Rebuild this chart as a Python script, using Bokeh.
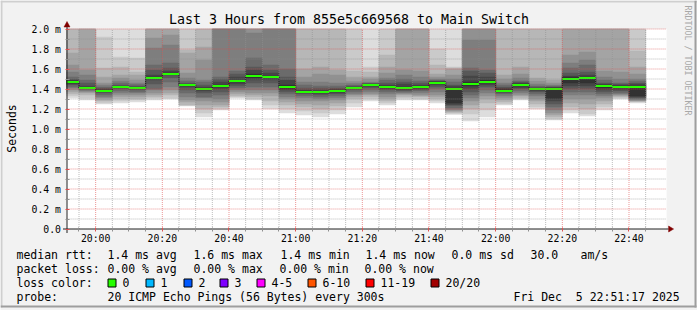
import pandas as pd
from math import pi
from bokeh.plotting import figure
from bokeh.models import (ColumnDataSource, FixedTicker, Label, Range1d,
                          DatetimeAxis, LinearAxis, DatetimeTickFormatter)
from bokeh.embed import file_html
from bokeh.resources import INLINE

# ---------------- data (ms) ----------------
# 35 five-minute steps starting 19:50, 20 sorted pings per step (smokeping style)
ping01 = [1.31,1.29,1.25,1.26,1.27,1.29,1.30,1.23,1.12,1.19,1.31,1.29,1.20,1.16,1.14,1.12,1.15,1.22,1.28,1.24,1.29,1.29,1.26,1.145,1.08,1.12,1.24,1.29,1.20,1.09,1.16,1.13,1.19,1.30,1.26]
ping02 = [1.33,1.31,1.26,1.28,1.29,1.31,1.31,1.235,1.16,1.20,1.32,1.30,1.24,1.20,1.18,1.16,1.19,1.26,1.30,1.26,1.31,1.30,1.28,1.155,1.15,1.19,1.25,1.30,1.22,1.10,1.19,1.15,1.22,1.31,1.27]
ping03 = [1.35,1.34,1.28,1.30,1.30,1.32,1.34,1.24,1.20,1.22,1.33,1.32,1.28,1.24,1.22,1.20,1.23,1.30,1.32,1.28,1.32,1.32,1.30,1.165,1.20,1.26,1.27,1.31,1.25,1.12,1.22,1.20,1.25,1.32,1.275]
ping04 = [1.37,1.36,1.29,1.32,1.32,1.34,1.36,1.27,1.24,1.24,1.35,1.34,1.33,1.27,1.25,1.24,1.26,1.32,1.34,1.30,1.34,1.33,1.32,1.175,1.24,1.30,1.29,1.33,1.28,1.14,1.26,1.25,1.28,1.33,1.28]
ping05 = [1.39,1.37,1.31,1.34,1.34,1.36,1.39,1.29,1.28,1.27,1.37,1.36,1.36,1.30,1.28,1.28,1.29,1.34,1.35,1.32,1.35,1.34,1.34,1.185,1.28,1.33,1.31,1.34,1.30,1.16,1.30,1.30,1.31,1.34,1.285]
ping06 = [1.41,1.38,1.32,1.36,1.36,1.39,1.42,1.32,1.31,1.30,1.39,1.39,1.39,1.32,1.31,1.30,1.31,1.35,1.37,1.35,1.36,1.36,1.37,1.195,1.31,1.36,1.33,1.36,1.33,1.19,1.34,1.34,1.33,1.35,1.29]
ping07 = [1.42,1.39,1.34,1.38,1.37,1.40,1.47,1.36,1.32,1.34,1.41,1.42,1.42,1.35,1.33,1.32,1.33,1.37,1.39,1.37,1.37,1.38,1.40,1.21,1.34,1.39,1.35,1.38,1.35,1.22,1.37,1.37,1.35,1.36,1.30]
ping08 = [1.44,1.40,1.36,1.40,1.39,1.45,1.51,1.39,1.36,1.37,1.43,1.46,1.46,1.37,1.35,1.34,1.35,1.39,1.41,1.39,1.385,1.39,1.42,1.235,1.37,1.42,1.36,1.40,1.37,1.25,1.40,1.40,1.37,1.38,1.31]
ping09 = [1.45,1.405,1.37,1.41,1.40,1.49,1.54,1.42,1.38,1.40,1.45,1.49,1.49,1.39,1.36,1.355,1.36,1.40,1.425,1.40,1.39,1.40,1.44,1.245,1.40,1.44,1.37,1.41,1.38,1.28,1.43,1.43,1.39,1.39,1.32]
ping10 = [1.46,1.41,1.38,1.42,1.41,1.505,1.545,1.435,1.40,1.42,1.47,1.51,1.51,1.40,1.365,1.365,1.375,1.405,1.435,1.41,1.40,1.41,1.46,1.26,1.43,1.46,1.38,1.43,1.395,1.30,1.46,1.46,1.41,1.41,1.33]
ping11 = [1.48,1.415,1.39,1.425,1.415,1.52,1.56,1.445,1.41,1.44,1.49,1.55,1.53,1.44,1.38,1.375,1.39,1.415,1.445,1.43,1.42,1.43,1.47,1.41,1.47,1.49,1.40,1.45,1.405,1.41,1.52,1.52,1.44,1.43,1.43]
ping12 = [1.49,1.43,1.40,1.43,1.42,1.54,1.58,1.45,1.42,1.47,1.52,1.59,1.56,1.49,1.39,1.39,1.40,1.42,1.45,1.44,1.45,1.44,1.475,1.43,1.53,1.52,1.41,1.46,1.41,1.415,1.53,1.54,1.45,1.44,1.45]
ping13 = [1.50,1.46,1.41,1.44,1.43,1.59,1.61,1.46,1.44,1.50,1.55,1.62,1.59,1.52,1.41,1.41,1.41,1.43,1.455,1.46,1.47,1.46,1.48,1.44,1.58,1.56,1.42,1.47,1.42,1.42,1.56,1.57,1.46,1.45,1.46]
ping14 = [1.52,1.49,1.42,1.46,1.445,1.64,1.66,1.48,1.47,1.52,1.58,1.71,1.64,1.60,1.44,1.43,1.43,1.44,1.46,1.49,1.50,1.48,1.49,1.47,1.61,1.59,1.44,1.48,1.43,1.43,1.61,1.64,1.49,1.46,1.48]
ping15 = [1.57,1.54,1.44,1.48,1.46,1.81,1.84,1.51,1.49,2.10,2.20,1.96,2.20,2.10,1.47,1.47,1.46,1.46,1.47,1.51,1.54,1.52,1.50,1.50,1.89,1.89,1.46,1.51,1.45,1.44,1.66,1.69,1.52,1.50,1.50]
ping16 = [1.64,1.59,1.46,1.51,1.49,1.91,1.94,1.56,1.69,2.40,2.50,2.30,2.50,2.40,1.52,1.55,1.54,1.48,1.50,1.56,1.59,1.58,1.52,1.54,2.20,2.20,1.50,1.55,1.48,1.46,1.74,1.77,1.58,1.57,1.55]
ping17 = [1.76,2.20,1.52,1.54,1.54,2.20,2.30,1.76,1.82,2.80,2.90,2.70,2.90,2.80,1.60,1.62,1.59,1.52,1.52,1.62,2.20,2.10,1.55,1.60,2.60,2.60,1.54,1.62,1.51,1.49,2.20,2.20,2.10,2.20,1.62]
ping18 = [2.10,2.50,1.61,1.62,1.57,2.60,2.70,1.79,2.20,3.20,3.40,3.10,3.30,3.20,2.20,2.20,2.10,1.58,1.57,1.74,2.60,2.50,1.64,1.61,3.00,3.00,2.20,2.20,2.10,2.10,2.60,2.60,2.50,2.60,1.78]
ping19 = [2.50,3.00,1.92,1.72,1.71,3.10,3.20,2.30,2.70,3.90,4.10,3.70,3.90,3.80,2.60,2.70,2.50,2.20,1.62,2.20,3.10,3.00,1.80,1.62,3.50,3.60,2.60,2.70,2.50,2.50,3.10,3.20,3.00,3.10,2.20]
ping20 = [3.00,3.50,2.40,2.30,2.30,3.80,4.00,2.90,3.30,4.60,5.00,4.40,4.70,4.50,3.20,3.30,3.10,2.80,2.30,2.90,3.70,3.60,2.40,2.30,4.20,4.30,3.20,3.30,3.00,3.10,3.80,3.90,3.60,3.70,2.80]
median = [1.47,1.41,1.38,1.42,1.41,1.51,1.55,1.44,1.40,1.43,1.48,1.53,1.52,1.42,1.37,1.37,1.38,1.41,1.44,1.42,1.41,1.42,1.46,1.40,1.45,1.47,1.38,1.44,1.40,1.40,1.50,1.51,1.43,1.42,1.42]

first_step = "2025-12-05 19:50:00"
step_minutes = 5
view_start = "2025-12-05 19:51:17"
view_end = "2025-12-05 22:51:17"
y_max = 2.0

x_tick_labels = ["20:00", "20:20", "20:40", "21:00", "21:20", "21:40", "22:00", "22:20", "22:40"]
y_ticks = [0.0, 0.2, 0.4, 0.6, 0.8, 1.0, 1.2, 1.4, 1.6, 1.8, 2.0]
y_tick_labels = ["0.0", "0.2 m", "0.4 m", "0.6 m", "0.8 m", "1.0 m", "1.2 m", "1.4 m", "1.6 m", "1.8 m", "2.0 m"]
y_minor = [0.1, 0.3, 0.5, 0.7, 0.9, 1.1, 1.3, 1.5, 1.7, 1.9]

title_text = "Last 3 Hours from 855e5c669568 to Main Switch"
rtt_items = ["median rtt:", "1.4 ms avg", "1.6 ms max", "1.4 ms min", "1.4 ms now", "0.0 ms sd", "30.0", "am/s"]
loss_items = ["packet loss:", "0.00 % avg", "0.00 % max", "0.00 % min", "0.00 % now"]
loss_labels = ["0", "1", "2", "3", "4-5", "6-10", "11-19", "20/20"]
loss_colors = ["#26ff00", "#00b8ff", "#0059ff", "#7e00ff", "#ff00ff", "#ff5500", "#ff0000", "#a10000"]
probe_text = "20 ICMP Echo Pings (56 Bytes) every 300s"
stamp_text = "Fri Dec \u00a05 22:51:17 2025"

# ---------------- layout constants (pixels) ----------------
W, H = 697, 310
FL, FR, FT, FB = 66.1, 666.1, 28.5, 228.5     # rrdtool canvas area inside the image
AXIS_X = 66.5                                  # crisp pixel column for the y axis line
FONT = "DejaVu Sans Mono"

# ---------------- build ----------------
pings = [ping01, ping02, ping03, ping04, ping05, ping06, ping07, ping08, ping09, ping10,
         ping11, ping12, ping13, ping14, ping15, ping16, ping17, ping18, ping19, ping20]
n = len(median)
bar_start = pd.date_range(first_step, periods=n, freq=f"{step_minutes}min")
bar_end = bar_start + pd.Timedelta(minutes=step_minutes)
t0 = pd.Timestamp(view_start)
t1 = pd.Timestamp(view_end)

def ms(ts):
    return ts.value // 10**6

t0_ms, t1_ms = ms(t0), ms(t1)
ms_px = (t1_ms - t0_ms) / (FR - FL)
v_px = y_max / (FB - FT)

# the figure's frame covers the whole image; data ranges are set so the
# rrdtool canvas lands on pixels FL..FR / FT..FB
x_lo = t0_ms - FL * ms_px
x_hi = t0_ms + (W - FL) * ms_px
y_lo = -(H - FB) * v_px
y_hi = FB * v_px
ax_ms = t0_ms + (AXIS_X - FL) * ms_px

p = figure(width=W, height=H, x_axis_type="datetime",
           x_range=Range1d(x_lo, x_hi), y_range=Range1d(y_lo, y_hi),
           x_axis_location=None, y_axis_location=None,
           output_backend="svg", toolbar_location=None, title=None,
           min_border=0, min_border_left=0, min_border_right=0,
           min_border_top=0, min_border_bottom=0,
           background_fill_color="#f2f2f2", border_fill_color="#f2f2f2",
           outline_line_color=None)
p.xgrid.visible = False
p.ygrid.visible = False
p.extra_x_ranges = {"px": Range1d(0, W)}
p.extra_y_ranges = {"px": Range1d(H, 0)}

# white canvas
p.quad(left=[t0_ms], right=[t1_ms], bottom=[0], top=[y_max], fill_color="white", line_color=None)

# smoke: nested bands between ping i and ping 21-i, light outside, dark inside
L, R, B, T, C = [], [], [], [], []
half = 10
for i in range(1, half + 1):
    shade = int(190 / half * (half - i)) + 50
    col = "#%02x%02x%02x" % (shade, shade, shade)
    lo = pings[i - 1]
    hi = pings[20 - i]
    for a, b, l, h in zip(bar_start, bar_end, lo, hi):
        L.append(max(ms(a), t0_ms)); R.append(min(ms(b), t1_ms))
        B.append(min(l, y_max)); T.append(min(h, y_max)); C.append(col)
smoke = ColumnDataSource(dict(left=L, right=R, bottom=B, top=T, color=C))
p.quad(left="left", right="right", bottom="bottom", top="top", source=smoke,
       fill_color="color", line_color="color", line_width=0.5)

# median: dark step line + loss-coloured segments
sx, sy = [], []
for a, b, m in zip(bar_start, bar_end, median):
    sx += [max(ms(a), t0_ms), ms(b)]; sy += [m, m]
p.line(sx, sy, line_color="#202020", line_width=1)
p.segment(x0=[max(ms(a), t0_ms) for a in bar_start], y0=median,
          x1=[ms(b) for b in bar_end], y1=median,
          line_color=loss_colors[0], line_width=2)

# grid (drawn over the smoke, as rrdtool does)
x_major = [ms(pd.Timestamp("2025-12-05 " + s)) for s in x_tick_labels]
x_minor = [ms(t) for t in bar_end if ms(t) not in x_major and t0_ms < ms(t) < t1_ms]
p.segment(x0=x_minor, y0=[0] * len(x_minor), x1=x_minor, y1=[y_max] * len(x_minor),
          line_color="#8f8f8f", line_alpha=0.6, line_dash="1 1", line_width=1)
p.segment(x0=[t0_ms] * len(y_minor), y0=y_minor, x1=[t1_ms] * len(y_minor), y1=y_minor,
          line_color="#8f8f8f", line_alpha=0.6, line_dash="1 1", line_width=1)
p.segment(x0=x_major, y0=[0] * len(x_major), x1=x_major, y1=[y_max] * len(x_major),
          line_color="#de5050", line_alpha=0.6, line_dash="1 1", line_width=1)
y_maj_grid = [v for v in y_ticks if v > 0]
p.segment(x0=[t0_ms] * len(y_maj_grid), y0=y_maj_grid, x1=[t1_ms] * len(y_maj_grid), y1=y_maj_grid,
          line_color="#de5050", line_alpha=0.6, line_dash="1 1", line_width=1)

# axes (library axes, placed on the canvas edges)
xt = FixedTicker(ticks=x_major, minor_ticks=x_minor)
yt = FixedTicker(ticks=y_ticks, minor_ticks=y_minor)
xaxis = DatetimeAxis(ticker=xt, fixed_location=0, bounds=(t0_ms, t1_ms),
                     formatter=DatetimeTickFormatter(minutes="%H:%M", hourmin="%H:%M",
                                                     hours="%H:%M", minsec="%H:%M"))
xaxis.major_label_overrides = dict(zip(x_major, x_tick_labels))
yaxis = LinearAxis(ticker=yt, fixed_location=ax_ms, bounds=(0, y_max))
yaxis.major_label_overrides = dict(zip(y_ticks, y_tick_labels))
for ax in (xaxis, yaxis):
    ax.axis_line_color = None
    ax.major_tick_line_color = "#de5050"
    ax.minor_tick_line_color = "#8f8f8f"
    ax.major_tick_in = 2
    ax.major_tick_out = 2
    ax.minor_tick_in = 2
    ax.minor_tick_out = 2
    ax.major_label_text_font = FONT
    ax.major_label_text_font_size = "9.8px"
    ax.major_label_text_color = "black"
xaxis.major_label_standoff = 2
yaxis.major_label_standoff = 4
p.add_layout(xaxis, "below")
p.add_layout(yaxis, "left")

# axis lines with rrdtool arrows
p.line([ax_ms - 4 * ms_px, t1_ms + 2 * ms_px], [0, 0], line_color="#202020", line_width=1)
p.line([ax_ms, ax_ms], [-4 * v_px, y_max + 2 * v_px], line_color="#202020", line_width=1)
p.patch([t1_ms + 2 * ms_px, t1_ms + 7 * ms_px, t1_ms + 2 * ms_px], [3 * v_px, 0, -3 * v_px],
        fill_color="#800000", line_color="#800000", line_width=0.5)
p.patch([ax_ms - 3 * ms_px, ax_ms, ax_ms + 3 * ms_px],
        [y_max + 2 * v_px, y_max + 7.5 * v_px, y_max + 2 * v_px],
        fill_color="#800000", line_color="#800000", line_width=0.5)

# image border
for l, r, t, b, c in [(0, W, 0, 2, "#cfcfcf"), (0, 2, 0, 307, "#cfcfcf"),
                      (694, 696, 0, 307, "#9e9e9e"), (0, 696, 305, 307, "#9e9e9e")]:
    p.quad(left=[l], right=[r], top=[t], bottom=[b], fill_color=c, line_color=None,
           x_range_name="px", y_range_name="px")

def txt(x, y, s, size="11.5px", align="left", angle=0.0, color="black"):
    p.add_layout(Label(x=x, y=y, x_range_name="px", y_range_name="px", text=s,
                       text_font=FONT, text_font_size=size, text_align=align,
                       text_baseline="middle", angle=angle, text_color=color))

txt(348.5, 19, title_text, size="13.3px", align="center")
txt(11, 128, "Seconds", align="center", angle=pi / 2)
txt(687, 5, "RRDTOOL / TOBI OETIKER", size="8.3px", angle=-pi / 2, color="#a8a8a8")

row_y = [254, 268, 282, 296]
col_x = [16, 107, 193, 280, 365, 451, 530, 580]
for s, x in zip(rtt_items, col_x):
    txt(x, row_y[0], s)
for s, x in zip(loss_items, [16, 107, 193, 279, 364]):
    txt(x, row_y[1], s)
txt(16, row_y[2], "loss color:")
sw_x = [107, 145, 183, 219, 256, 307, 365, 430]
p.quad(left=[x + 0.5 for x in sw_x], right=[x + 8.5 for x in sw_x],
       top=[278.5] * len(sw_x), bottom=[286.5] * len(sw_x),
       fill_color=loss_colors, line_color="black", line_width=1,
       x_range_name="px", y_range_name="px")
for s, x in zip(loss_labels, sw_x):
    txt(x + 15, row_y[2], s)
txt(16, row_y[3], "probe:")
txt(107, row_y[3], probe_text)
txt(513, row_y[3], stamp_text)

open("out.html", "w").write(file_html(p, INLINE))
